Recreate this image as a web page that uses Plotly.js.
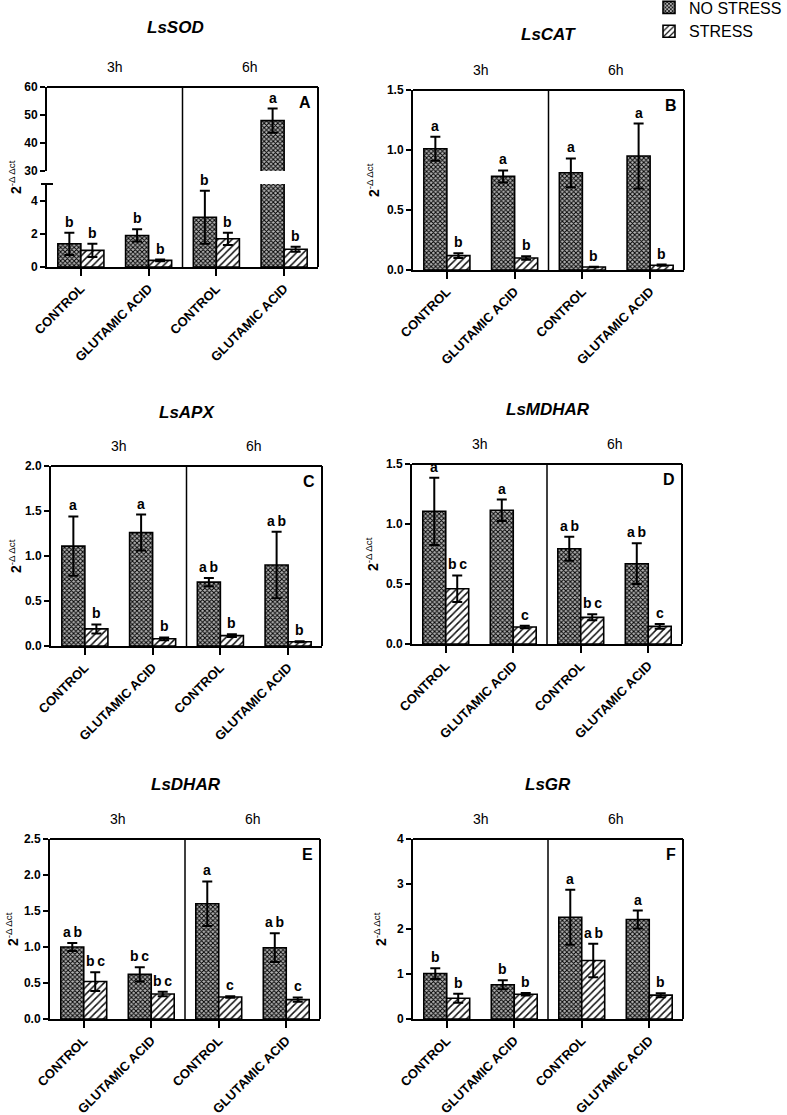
<!DOCTYPE html>
<html><head><meta charset="utf-8">
<script src="https://cdn.plot.ly/plotly-3.0.1.min.js"></script>
<style>html,body{margin:0;padding:0;background:#fff;}</style>
</head><body><div id="chart" style="width:787px;height:1115px;"></div>
<script>
// ---------------- DATA ----------------
const categories = ['CONTROL', 'GLUTAMIC ACID', 'CONTROL', 'GLUTAMIC ACID'];
const timeLabels = ['3h', '6h'];
const seriesNames = ['NO STRESS', 'STRESS'];
const geneNames = ['LsSOD', 'LsCAT', 'LsAPX', 'LsMDHAR', 'LsDHAR', 'LsGR'];
const panelLetters = ['A', 'B', 'C', 'D', 'E', 'F'];

// LsSOD
const sodNoStress = [1.4, 1.9, 3.0, 48.0];
const sodNoStressErr = [0.67, 0.37, 1.6, 4.3];
const sodStress = [1.0, 0.4, 1.7, 1.07];
const sodStressErr = [0.4, 0.05, 0.37, 0.15];
const sodLettersNS = ['b', 'b', 'b', 'a'];
const sodLettersS = ['b', 'b', 'b', 'b'];
const sodLowTicks = [0, 2, 4];
const sodHighTicks = [30, 40, 50, 60];

// LsCAT
const catNoStress = [1.01, 0.78, 0.81, 0.95];
const catNoStressErr = [0.10, 0.05, 0.12, 0.27];
const catStress = [0.12, 0.10, 0.025, 0.04];
const catStressErr = [0.02, 0.015, 0.003, 0.005];
const catLettersNS = ['a', 'a', 'a', 'a'];
const catLettersS = ['b', 'b', 'b', 'b'];

// LsAPX
const apxNoStress = [1.11, 1.26, 0.71, 0.90];
const apxNoStressErr = [0.33, 0.20, 0.045, 0.37];
const apxStress = [0.19, 0.08, 0.115, 0.048];
const apxStressErr = [0.05, 0.015, 0.015, 0.005];
const apxLettersNS = ['a', 'a', 'a\u2009b', 'a\u2009b'];
const apxLettersS = ['b', 'b', 'b', 'b'];

// LsMDHAR
const mdharNoStress = [1.106, 1.114, 0.794, 0.669];
const mdharNoStressErr = [0.28, 0.09, 0.10, 0.17];
const mdharStress = [0.461, 0.142, 0.222, 0.147];
const mdharStressErr = [0.11, 0.01, 0.025, 0.02];
const mdharLettersNS = ['a', 'a', 'a\u2009b', 'a\u2009b'];
const mdharLettersS = ['b\u2009c', 'c', 'b\u2009c', 'c'];

// LsDHAR
const dharNoStress = [1.0, 0.62, 1.60, 0.99];
const dharNoStressErr = [0.055, 0.10, 0.31, 0.20];
const dharStress = [0.52, 0.347, 0.306, 0.269];
const dharStressErr = [0.13, 0.03, 0.01, 0.03];
const dharLettersNS = ['a\u2009b', 'b\u2009c', 'a', 'a\u2009b'];
const dharLettersS = ['b\u2009c', 'b\u2009c', 'c', 'c'];

// LsGR
const grNoStress = [1.01, 0.76, 2.26, 2.21];
const grNoStressErr = [0.12, 0.10, 0.61, 0.20];
const grStress = [0.46, 0.55, 1.30, 0.53];
const grStressErr = [0.10, 0.03, 0.37, 0.045];
const grLettersNS = ['b', 'b', 'a', 'a'];
const grLettersS = ['b', 'b', 'a\u2009b', 'b'];

// ---------------- LAYOUT GEOMETRY (pixels) ----------------
const W = 787, H = 1115;
const FONT = 'Liberation Sans, Arial, Helvetica, sans-serif';
const px = v => v / W;
const py = v => 1 - v / H;

const panels = [
  {gene: 0, ns: sodNoStress, nsErr: sodNoStressErr, s: sodStress, sErr: sodStressErr, lNS: sodLettersNS, lS: sodLettersS,
   left: 47, right: 318, top: 87, bottom: 267, brk: {upperBottom: 171, lowerTop: 184, low: [0, 5], high: [30, 60]},
   title: [175, 27], ylab: 15},
  {gene: 1, ns: catNoStress, nsErr: catNoStressErr, s: catStress, sErr: catStressErr, lNS: catLettersNS, lS: catLettersS,
   left: 413, right: 684, top: 90, bottom: 270, range: [0, 1.5], dtick: 0.5, fmt: '.1f', title: [548, 35], ylab: 373},
  {gene: 2, ns: apxNoStress, nsErr: apxNoStressErr, s: apxStress, sErr: apxStressErr, lNS: apxLettersNS, lS: apxLettersS,
   left: 51, right: 322, top: 466, bottom: 646, range: [0, 2], dtick: 0.5, fmt: '.1f', title: [187, 412], ylab: 15},
  {gene: 3, ns: mdharNoStress, nsErr: mdharNoStressErr, s: mdharStress, sErr: mdharStressErr, lNS: mdharLettersNS, lS: mdharLettersS,
   left: 412, right: 682, top: 464, bottom: 644, range: [0, 1.5], dtick: 0.5, fmt: '.1f', title: [548, 410], ylab: 372},
  {gene: 4, ns: dharNoStress, nsErr: dharNoStressErr, s: dharStress, sErr: dharStressErr, lNS: dharLettersNS, lS: dharLettersS,
   left: 50, right: 320, top: 839, bottom: 1019, range: [0, 2.5], dtick: 0.5, fmt: '.1f', title: [186, 784], ylab: 12},
  {gene: 5, ns: grNoStress, nsErr: grNoStressErr, s: grStress, sErr: grStressErr, lNS: grLettersNS, lS: grLettersS,
   left: 413, right: 683, top: 839, bottom: 1019, range: [0, 4], dtick: 1, fmt: 'd', title: [548, 784], ylab: 380}
];

const xpos = categories.map((c, i) => i);
const nsPattern = {shape: 'x', size: 3.2, solidity: 0.5, fgcolor: '#000', bgcolor: '#b4b4b4', fillmode: 'replace'};
const sPattern = {shape: '/', size: 5, solidity: 0.3, fgcolor: '#111', bgcolor: '#ffffff', fillmode: 'replace'};

const traces = [];
const layout = {
  width: W, height: H, margin: {l: 0, r: 0, t: 0, b: 0, autoexpand: false},
  paper_bgcolor: '#fff', plot_bgcolor: 'rgba(0,0,0,0)',
  font: {family: FONT, color: '#000'},
  barmode: 'group', bargap: 0.32, bargroupgap: 0,
  showlegend: true,
  legend: {x: px(649), y: 1.0085, xanchor: 'left', yanchor: 'top', font: {family: FONT, size: 16, color: '#000'},
           bgcolor: 'rgba(0,0,0,0)', tracegroupgap: 0, traceorder: 'normal'},
  annotations: [], shapes: []
};

function xAxis(p, anchor) {
  return {
    domain: [px(p.left), px(p.right)], anchor: anchor, range: [-0.5, 3.5],
    tickmode: 'array', tickvals: xpos, ticktext: categories, tickangle: -45,
    ticks: 'outside', ticklen: 7, tickwidth: 2, tickcolor: '#000',
    showline: true, linewidth: 2, linecolor: '#000', showgrid: false, zeroline: false,
    tickfont: {family: FONT, size: 13, weight: 'bold', color: '#000'}, fixedrange: true
  };
}
function yAxis(domain, anchor, range, extra) {
  return Object.assign({
    domain: domain, anchor: anchor, range: range,
    ticks: 'outside', ticklen: 5, tickwidth: 2, tickcolor: '#000',
    showline: true, linewidth: 2, linecolor: '#000', showgrid: false, zeroline: false,
    tickfont: {family: FONT, size: 12, weight: 'bold', color: '#000'}, fixedrange: true
  }, extra);
}

function addBars(p, xa, ya, legend) {
  traces.push({
    type: 'bar', x: xpos, y: p.ns, name: seriesNames[0], xaxis: xa, yaxis: ya,
    showlegend: legend, legendgroup: 'ns', hoverinfo: 'skip',
    marker: {color: '#b4b4b4', pattern: nsPattern, line: {color: '#000', width: 1.6}},
    error_y: {type: 'data', array: p.nsErr, visible: true, color: '#000', thickness: 2, width: 5}
  });
  traces.push({
    type: 'bar', x: xpos, y: p.s, name: seriesNames[1], xaxis: xa, yaxis: ya,
    showlegend: legend, legendgroup: 's', hoverinfo: 'skip',
    marker: {color: '#fff', pattern: sPattern, line: {color: '#000', width: 1.6}},
    error_y: {type: 'data', array: p.sErr, visible: true, color: '#000', thickness: 2, width: 5}
  });
}

function letterAnn(xa, ya, x, y, text) {
  return {xref: xa, yref: ya, x: x, y: y, text: text, showarrow: false, yanchor: 'bottom', xanchor: 'center',
          yshift: 1, font: {family: FONT, size: 14, weight: 'bold', color: '#000'}};
}

let yCount = 0;
panels.forEach((p, k) => {
  const xn = k === 0 ? '' : String(k + 1);
  const xa = 'x' + xn;
  const xKey = 'xaxis' + xn;
  const off = 0.17;
  if (p.brk) {
    yCount += 1; const yl = 'y' + (yCount === 1 ? '' : yCount); const ylKey = 'yaxis' + (yCount === 1 ? '' : yCount);
    yCount += 1; const yu = 'y' + yCount; const yuKey = 'yaxis' + yCount;
    layout[xKey] = xAxis(p, yl);
    layout[ylKey] = yAxis([py(p.bottom), py(p.brk.lowerTop)], xa, p.brk.low, {tickmode: 'array', tickvals: sodLowTicks, ticktext: sodLowTicks.map(String)});
    layout[yuKey] = yAxis([py(p.brk.upperBottom), py(p.top)], xa, p.brk.high, {tickmode: 'array', tickvals: sodHighTicks, ticktext: sodHighTicks.map(String)});
    addBars(p, xa, yl, true);
    addBars(p, xa, yu, false);
    p.ns.forEach((v, i) => {
      const top = v + p.nsErr[i];
      layout.annotations.push(letterAnn(xa, top > p.brk.low[1] ? yu : yl, i - off, top, p.lNS[i]));
    });
    p.s.forEach((v, i) => {
      const top = v + p.sErr[i];
      layout.annotations.push(letterAnn(xa, top > p.brk.low[1] ? yu : yl, i + off, top, p.lS[i]));
    });
    layout.shapes.push({type: 'line', xref: xa + ' domain', xsizemode: 'pixel', xanchor: 0, x0: -6, x1: 6,
                        yref: 'paper', y0: py(p.brk.lowerTop), y1: py(p.brk.lowerTop), line: {color: '#000', width: 2}});
  } else {
    yCount += 1; const ya = 'y' + yCount; const yKey = 'yaxis' + yCount;
    layout[xKey] = xAxis(p, ya);
    layout[yKey] = yAxis([py(p.bottom), py(p.top)], xa, p.range, {tickmode: 'linear', tick0: 0, dtick: p.dtick, tickformat: p.fmt});
    addBars(p, xa, ya, false);
    p.ns.forEach((v, i) => layout.annotations.push(letterAnn(xa, ya, i - off, v + p.nsErr[i], p.lNS[i])));
    p.s.forEach((v, i) => layout.annotations.push(letterAnn(xa, ya, i + off, v + p.sErr[i], p.lS[i])));
  }
  layout.shapes.push({type: 'line', xref: xa + ' domain', x0: 0, x1: 1, yref: 'paper', y0: py(p.top), y1: py(p.top), line: {color: '#000', width: 2}});
  layout.shapes.push({type: 'line', xref: xa + ' domain', x0: 1, x1: 1, yref: 'paper', y0: py(p.bottom), y1: py(p.top), line: {color: '#000', width: 2}});
  layout.shapes.push({type: 'line', xref: xa, x0: 1.5, x1: 1.5, yref: 'paper', y0: py(p.bottom), y1: py(p.top), line: {color: '#000', width: 1.5}});
  layout.annotations.push({xref: 'paper', yref: 'paper', x: px(p.title[0]), y: py(p.title[1]), text: geneNames[p.gene],
    showarrow: false, xanchor: 'center', yanchor: 'middle', font: {family: FONT, size: 17, weight: 'bold', style: 'italic', color: '#000'}});
  timeLabels.forEach((t, j) => {
    layout.annotations.push({xref: xa, yref: 'paper', x: 0.5 + 2 * j, y: py(p.top - 20), text: t, showarrow: false,
      xanchor: 'center', yanchor: 'middle', font: {family: FONT, size: 14, color: '#000'}});
  });
  layout.annotations.push({xref: xa + ' domain', yref: 'paper', x: 1, y: py(p.top), xanchor: 'right', yanchor: 'top',
    xshift: -5, yshift: -5, text: panelLetters[k], showarrow: false, font: {family: FONT, size: 16, weight: 'bold', color: '#000'}});
  layout.annotations.push({xref: 'paper', yref: 'paper', x: px(p.ylab), y: py((p.top + p.bottom) / 2), textangle: -90,
    text: '<b>2</b><sup>-\u0394 \u0394ct</sup>', showarrow: false, xanchor: 'center', yanchor: 'middle',
    font: {family: FONT, size: 14, color: '#000'}});
});

Plotly.newPlot('chart', traces, layout, {displayModeBar: false, responsive: false, staticPlot: true});
</script>
</body></html>
